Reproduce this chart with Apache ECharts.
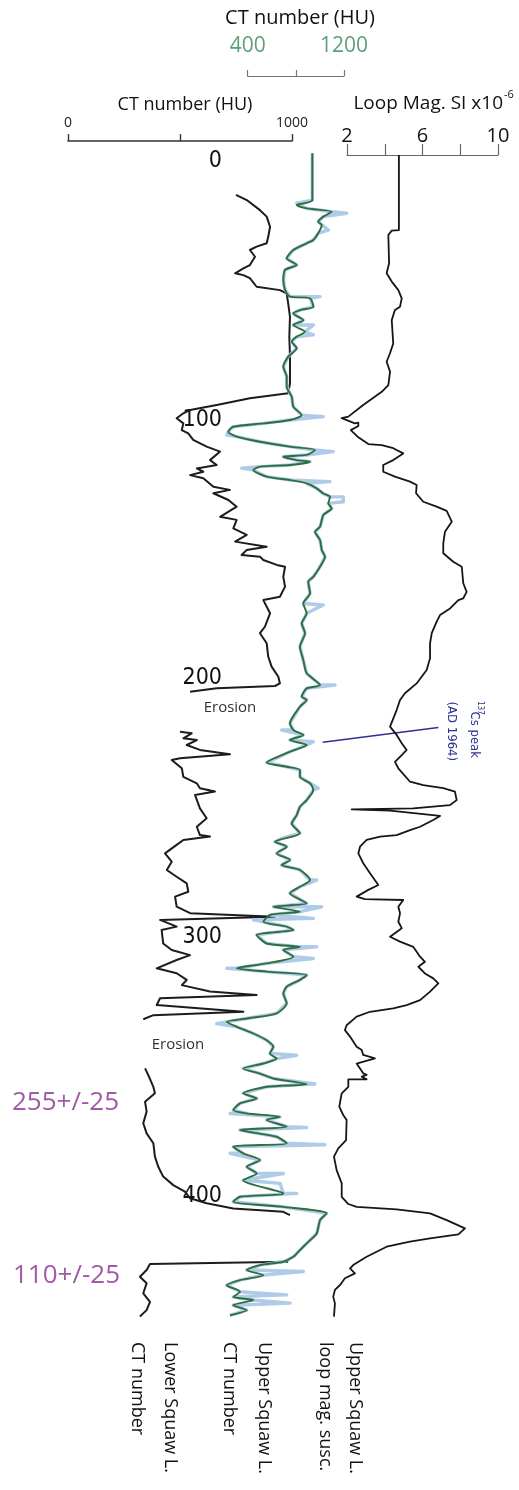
<!DOCTYPE html>
<html>
<head>
<meta charset="utf-8">
<title>Squaw Lake cores</title>
<script src="https://cdn.jsdelivr.net/npm/echarts@6/dist/echarts.min.js"></script>
<style>
    html, body { margin: 0; padding: 0; background: #fff; }
    #chart { width: 519px; height: 1490px; }
</style>
</head>
<body>
<div id="chart"></div>
<script>
    // all pairs are [depth (cm), value]
    // Lower Squaw L. CT number (HU), four pieces split by erosion gaps
    const lowerCt1 = [[13.1,750],[15.1,798],[19.0,857],[21.5,887],[25.4,902],[29.3,894],[31.8,887],[33.1,842],[34.4,812],[37.0,835],[40.2,812],[41.5,783],[43.4,746],[44.1,783],[45.3,812],[48.6,842],[49.9,946],[51.1,976],[55.0,983],[60.2,991],[67.9,988],[75.6,991],[85.9,991],[89.8,983],[91.7,812],[94.3,664],[96.2,545],[97.5,515],[99.4,485],[101.4,515],[104.0,508],[105.3,537],[107.8,559],[110.4,619],[112.3,679],[115.6,634],[117.5,664],[118.8,575],[120.1,604],[121.4,545],[122.6,604],[125.9,649],[127.1,723],[128.4,649],[131.0,716],[133.6,753],[137.5,679],[138.7,753],[142.0,738],[144.5,798],[147.1,746],[149.1,887],[150.3,798],[152.3,775],[152.9,857],[154.2,872],[156.1,932],[156.8,969],[160.7,961],[164.5,969],[168.4,946],[169.7,872],[174.8,902],[180.0,879],[182.5,857],[186.4,887],[191.6,894],[195.4,909],[199.3,939],[201.9,946],[202.9,924],[203.8,664],[205.1,545]];
    const lowerCt2 = [[220.6,500],[221.2,552],[223.1,515],[223.8,575],[225.7,530],[227.6,589],[229.3,723],[230.8,500],[231.5,463],[234.7,508],[238.0,515],[240.5,575],[242.4,589],[243.7,656],[245.0,567],[250.2,589],[254.0,619],[257.3,575],[260.5,589],[261.1,634],[262.4,515],[264.3,485],[267.6,433],[270.8,463],[274.0,441],[276.6,485],[279.2,530],[282.4,537],[284.3,478],[288.2,485],[290.7,545],[292.1,924],[293.3,411],[295.9,485],[297.2,418],[302.4,425],[304.9,463],[306.9,545],[308.8,485],[312.0,396],[313.9,485],[316.5,530],[318.5,508],[321.0,634],[322.3,842],[323.6,411],[326.2,396],[328.8,783],[330.1,381],[331.7,336]];
    const lowerCt3 = [[350.7,344],[353.2,358],[357.8,381],[360.3,388],[363.6,344],[367.4,351],[371.9,336],[375.8,351],[379.6,381],[384.8,388],[388.7,403],[392.5,425],[395.8,470],[398.3,522],[400.9,545],[402.8,619],[404.8,738],[406.1,961],[407.4,991]];
    const lowerCt4 = [[425.4,983],[426.3,366],[428.6,351],[431.2,321],[433.7,351],[437.6,336],[440.9,366],[444.1,351],[446.6,321]];

    // Upper Squaw L. CT number (HU), smoothed curve
    const upperCt = [[-3.0,937],[15.1,937],[17.0,807],[18.3,890],[19.6,1098],[21.5,1028],[23.5,986],[24.7,1015],[27.9,986],[30.5,945],[31.8,890],[34.4,779],[37.6,724],[40.2,807],[42.1,710],[46.0,696],[49.8,710],[52.4,751],[53.1,918],[56.3,945],[57.6,834],[58.9,779],[61.5,862],[63.4,779],[66.0,876],[67.9,807],[69.8,766],[72.4,807],[75.6,737],[79.5,696],[83.4,724],[87.2,724],[91.1,766],[95.0,779],[98.2,849],[100.1,751],[101.4,530],[102.7,280],[104.6,239],[106.5,309],[108.5,502],[110.4,751],[111.7,959],[113.6,890],[114.3,696],[115.6,807],[116.2,918],[117.5,751],[118.1,502],[119.4,447],[122.0,558],[123.3,751],[124.6,890],[126.5,973],[128.5,1028],[129.8,1084],[132.3,1070],[134.3,1098],[136.8,1028],[141.3,1001],[143.3,959],[146.5,1001],[150.3,1015],[152.9,1042],[156.8,1001],[160.7,945],[162.6,903],[167.1,918],[171.0,862],[174.8,890],[178.7,849],[182.5,876],[187.7,834],[192.9,862],[198.0,890],[202.5,1001],[203.8,890],[207.0,849],[208.3,890],[210.9,834],[217.3,751],[219.9,779],[221.8,862],[223.8,751],[225.7,890],[228.3,751],[232.5,558],[234.1,724],[235.4,834],[238.0,834],[240.5,918],[243.1,945],[247.0,890],[249.6,834],[252.8,807],[256.0,766],[259.8,834],[263.1,627],[265.0,724],[267.6,641],[270.1,751],[272.1,682],[274.0,834],[277.9,918],[280.5,834],[283.0,751],[286.9,890],[288.2,613],[290.1,834],[291.4,585],[294.0,530],[295.9,724],[297.2,779],[299.1,475],[302.4,558],[303.7,834],[304.9,696],[307.5,779],[310.1,558],[312.0,309],[313.3,558],[314.6,890],[316.5,834],[319.1,724],[321.7,696],[325.5,724],[329.4,641],[331.4,392],[332.7,226],[334.6,309],[337.2,447],[339.8,558],[342.3,613],[344.9,585],[346.9,641],[348.8,530],[350.7,363],[352.7,502],[354.6,613],[356.8,890],[357.8,558],[360.3,363],[362.3,475],[364.2,336],[366.8,280],[368.1,392],[369.4,668],[370.6,558],[373.2,724],[374.5,336],[377.1,641],[379.6,724],[381.0,280],[383.5,363],[386.1,502],[388.7,392],[391.3,475],[393.9,363],[399.0,696],[400.3,336],[402.2,280],[404.2,696],[406.7,1056],[409.3,1001],[414.5,973],[418.3,890],[420.9,834],[423.5,779],[425.4,696],[426.7,502],[428.6,392],[430.6,530],[432.5,336],[434.5,226],[437.0,336],[439.0,280],[440.2,447],[442.2,280],[444.1,392],[446.1,253]];
    // spikes of the raw (unsmoothed) upper CT scan
    const upperRawSpikes = [[16.3,807],[20.2,1222],[26.7,1070],[52.4,1001],[63.4,945],[67.2,945],[98.8,1028],[105.9,226],[112.3,1111],[118.7,350],[123.9,1084],[129.8,1194],[131.7,1194],[171.6,1028],[202.5,1125],[219.9,682],[224.4,945],[242.4,986],[261.8,682],[277.9,973],[288.2,1015],[292.7,945],[293.3,447],[303.7,973],[308.2,945],[312.0,226],[333.4,142],[345.6,807],[356.7,959],[368.1,253],[373.5,890],[380.2,1042],[383.5,253],[391.3,696],[395.1,668],[399.0,807],[429.2,862],[438.2,724],[441.4,751]];

    // Upper Squaw L. loop magnetic susceptibility (SI x10^-6)
    const magSusc = [[-2.3,4.75],[26.7,4.75],[26.9,4.37],[28.6,4.19],[39.5,4.23],[43.4,4.10],[46.6,4.37],[49.9,4.72],[53.1,4.90],[56.3,4.81],[57.6,4.54],[61.5,4.37],[70.5,4.45],[74.3,4.28],[77.6,4.10],[81.4,4.28],[86.6,4.19],[89.2,3.84],[94.3,2.86],[98.8,2.07],[99.4,1.72],[101.4,2.42],[101.1,2.60],[102.4,2.60],[104.0,2.20],[106.8,2.60],[109.4,3.13],[109.8,3.84],[111.0,4.45],[113.0,4.98],[115.6,4.45],[117.5,3.92],[120.1,3.92],[122.0,4.54],[123.9,5.34],[125.2,5.69],[128.4,5.66],[131.7,6.04],[133.6,6.75],[135.2,7.28],[139.4,7.55],[143.3,7.19],[147.8,7.10],[151.6,7.10],[154.9,7.63],[156.8,8.08],[163.2,8.16],[166.5,8.34],[169.0,8.16],[169.7,7.90],[172.9,7.46],[175.5,6.93],[178.0,6.75],[182.5,6.49],[186.4,6.40],[192.2,6.40],[196.7,6.22],[201.9,5.69],[205.7,5.07],[208.3,4.81],[212.2,4.63],[218.6,4.28],[221.8,4.63],[225.0,4.90],[227.6,5.16],[229.6,4.90],[232.2,4.54],[234.7,4.72],[239.9,5.34],[241.2,6.04],[242.4,7.10],[243.7,7.72],[247.0,7.81],[248.9,7.46],[250.2,5.51],[250.6,2.25],[251.1,4.28],[253.1,6.93],[254.7,6.57],[257.3,5.87],[258.6,5.34],[260.5,4.63],[261.1,3.75],[262.4,3.04],[265.0,2.69],[267.6,2.60],[271.4,2.86],[275.3,3.22],[279.8,3.66],[281.7,3.13],[284.3,2.51],[285.3,2.95],[285.6,4.98],[288.2,4.72],[290.7,4.81],[294.0,4.72],[296.5,4.90],[299.8,4.28],[301.7,4.81],[303.7,5.51],[307.5,5.87],[309.5,6.13],[311.4,5.78],[314.0,6.13],[315.9,6.57],[317.8,6.84],[321.0,6.40],[324.3,5.87],[326.2,5.16],[327.5,4.45],[328.8,3.22],[330.7,2.51],[334.0,1.98],[335.9,1.89],[338.4,2.16],[342.3,2.51],[343.6,2.78],[345.5,2.86],[346.8,3.48],[348.8,2.51],[352.6,2.86],[353.2,3.04],[353.9,2.78],[354.9,3.04],[354.9,2.07],[357.8,2.07],[360.3,1.72],[365.5,1.59],[368.7,1.80],[370.6,1.98],[378.4,1.95],[381.6,1.54],[384.8,1.31],[390.0,1.45],[395.1,1.72],[400.3,1.72],[403.1,2.07],[404.2,2.51],[405.2,4.63],[406.7,6.40],[409.3,7.28],[412.5,8.25],[414.8,7.90],[416.4,6.40],[417.6,5.34],[419.6,4.10],[423.5,3.04],[426.7,2.33],[428.0,2.16],[429.9,2.42],[431.8,1.89],[434.4,1.63],[436.3,1.36],[438.9,1.27],[441.5,1.36],[446.6,1.31]];

    const depthTicks = [0, 100, 200, 300, 400];

    // page layout: depth 0 sits at y=161px, 2.5875 px per cm
    const W = 519;
    const Y_ZERO = 161;
    const PX_CM = 2.5875;
    const DEPTH_MAX = 450;
    const Y_BOTTOM = Y_ZERO + DEPTH_MAX * PX_CM;
    const DATA_TOP = 60;

    const GREEN_TXT = '#5e9e7b';
    const TXT_FONT = '"Open Sans", "Noto Sans", sans-serif';
    const NARROW = '"Liberation Sans Narrow", "DejaVu Sans Condensed", sans-serif';

    // where each scale sits on the page: [value, px], [value, px]
    const lowerScale = [[0, 68], [1000, 292]];
    const upperScale = [[400, 247.7], [1200, 344]];
    const magScale = [[2, 347], [10, 498]];

    // short grid that only carries a visible top axis
    function axisGrid(scale, top) {
        return {left: scale[0][1], width: scale[1][1] - scale[0][1], top: top, height: 20};
    }
    // full-width grid that carries the curves, so nothing gets cut at the axis ends
    function dataGrid() {
        return {left: 0, width: W, top: DATA_TOP, height: Y_BOTTOM - DATA_TOP};
    }
    function wideX(idx, scale) {
        const k = (scale[1][0] - scale[0][0]) / (scale[1][1] - scale[0][1]);
        return {gridIndex: idx, type: 'value', show: false,
            min: scale[0][0] - scale[0][1] * k,
            max: scale[0][0] + (W - scale[0][1]) * k};
    }
    function dataY(idx) {
        return {gridIndex: idx, type: 'value', inverse: true, show: false,
            min: (DATA_TOP - Y_ZERO) / PX_CM, max: DEPTH_MAX};
    }
    function toXY(pairs) {
        return pairs.map(p => [p[1], p[0]]);
    }
    function trace(idx, pairs, color, width, z, smooth) {
        return {
            type: 'line', xAxisIndex: idx, yAxisIndex: idx,
            data: toXY(pairs), symbol: 'none', showSymbol: false,
            clip: false, silent: true, smooth: smooth || false, z: z,
            lineStyle: {color: color, width: width, join: 'round'}
        };
    }
    function txt(text, x, y, style, rotation) {
        return {
            type: 'text', x: x, y: y, rotation: rotation || 0, silent: true,
            style: Object.assign({text: text, fill: '#111', fontSize: 18, fontFamily: TXT_FONT,
                align: 'center', verticalAlign: 'middle'}, style)
        };
    }

    const upperRaw = upperCt.concat(upperRawSpikes).sort((a, b) => a[0] - b[0]);

    const chart = echarts.init(document.getElementById('chart'), null, {renderer: 'canvas'});
    const ROT = -Math.PI / 2;

    chart.setOption({
        backgroundColor: '#fff',
        animation: false,
        grid: [
            axisGrid(lowerScale, 141),      // 0 lower CT axis
            axisGrid(upperScale, 76),       // 1 upper CT axis
            axisGrid(magScale, 155),        // 2 loop mag axis
            {left: 226, width: 1, top: Y_ZERO, height: 400 * PX_CM},   // 3 depth labels
            dataGrid(), dataGrid(), dataGrid()                          // 4,5,6 curves
        ],
        xAxis: [
            {
                gridIndex: 0, type: 'value', position: 'top', min: 0, max: 1000, interval: 500,
                axisLine: {onZero: false, lineStyle: {color: '#333', width: 1.6}},
                axisTick: {length: 7, lineStyle: {color: '#333', width: 1.4}},
                axisLabel: {margin: 11, fontSize: 14, color: '#222', fontFamily: TXT_FONT,
                    formatter: v => (v === 500 ? '' : String(v))},
                splitLine: {show: false}
            },
            {
                gridIndex: 1, type: 'value', position: 'top', min: 400, max: 1200, interval: 400,
                axisLine: {onZero: false, lineStyle: {color: '#777', width: 1.2}},
                axisTick: {length: 6, lineStyle: {color: '#777', width: 1.2}},
                axisLabel: {margin: 19, fontSize: 21, color: GREEN_TXT, fontFamily: TXT_FONT,
                    formatter: v => (v === 800 ? '' : String(v))},
                splitLine: {show: false}
            },
            {
                gridIndex: 2, type: 'value', position: 'top', min: 2, max: 10, interval: 2,
                axisLine: {onZero: false, lineStyle: {color: '#666', width: 1.2}},
                axisTick: {length: 11, lineStyle: {color: '#666', width: 1.2}},
                axisLabel: {margin: 9, fontSize: 20, color: '#111', fontFamily: TXT_FONT,
                    formatter: v => (v === 4 || v === 8 ? '' : String(v))},
                splitLine: {show: false}
            },
            {gridIndex: 3, type: 'value', show: false},
            wideX(4, lowerScale),
            wideX(5, upperScale),
            wideX(6, magScale)
        ],
        yAxis: [
            {gridIndex: 0, type: 'value', show: false},
            {gridIndex: 1, type: 'value', show: false},
            {gridIndex: 2, type: 'value', show: false},
            {
                gridIndex: 3, type: 'value', inverse: true, min: 0, max: 400, interval: 100,
                axisLine: {show: false}, axisTick: {show: false}, splitLine: {show: false},
                axisLabel: {margin: 4, fontSize: 23, color: '#111', fontFamily: NARROW,
                    formatter: v => (depthTicks.indexOf(v) >= 0 ? String(v) : '')}
            },
            dataY(4), dataY(5), dataY(6)
        ],
        series: [
            trace(4, lowerCt1, '#1c1c1c', 2, 3),
            trace(4, lowerCt2, '#1c1c1c', 2, 3),
            trace(4, lowerCt3, '#1c1c1c', 2, 3),
            trace(4, lowerCt4, '#1c1c1c', 2, 3),
            trace(5, upperRaw, '#aecbe8', 3.4, 4),
            trace(5, upperCt, '#2f6e3c', 1.9, 5, 0.25),
            trace(6, magSusc, '#161616', 1.8, 3)
        ],
        graphic: [
            // axis titles
            txt('CT number (HU)', 300, 18, {fontSize: 20}),
            txt('CT number (HU)', 185, 105, {fontSize: 18}),
            txt('Loop Mag. SI x10', 503, 104, {fontSize: 19, align: 'right'}),
            txt('-6', 504, 95, {fontSize: 11, align: 'left'}),
            // erosion gaps
            txt('Erosion', 230, 708, {fontSize: 15, fill: '#333'}),
            txt('Erosion', 178, 1045, {fontSize: 15, fill: '#333'}),
            // ages
            txt('255+/-25', 12, 1103, {fontSize: 26, fill: '#a05aa6', align: 'left'}),
            txt('110+/-25', 13, 1276, {fontSize: 26, fill: '#a05aa6', align: 'left'}),
            // 137Cs marker
            {
                type: 'line', silent: true,
                shape: {x1: 322.7, y1: 742.3, x2: 438.3, y2: 727.5},
                style: {stroke: '#2e3192', lineWidth: 1.4}
            },
            txt('137', 480, 701, {fontSize: 8, fill: '#2e3192', align: 'left', fontFamily: NARROW}, ROT),
            txt('Cs peak', 474.4, 711.5, {fontSize: 13, fill: '#2e3192', align: 'left', fontFamily: NARROW}, ROT),
            txt('(AD 1964)', 451.4, 701.5, {fontSize: 13, fill: '#2e3192', align: 'left', fontFamily: NARROW}, ROT),
            // track names
            txt('Lower Squaw L.', 170.4, 1342, {align: 'left'}, ROT),
            txt('CT number', 137.4, 1342, {align: 'left'}, ROT),
            txt('Upper Squaw L.', 264.4, 1342, {align: 'left'}, ROT),
            txt('CT number', 229.4, 1342, {align: 'left'}, ROT),
            txt('Upper Squaw L.', 355.4, 1342, {align: 'left'}, ROT),
            txt('loop mag. susc.', 324.7, 1342, {align: 'left'}, ROT)
        ]
    });
</script>
</body>
</html>
